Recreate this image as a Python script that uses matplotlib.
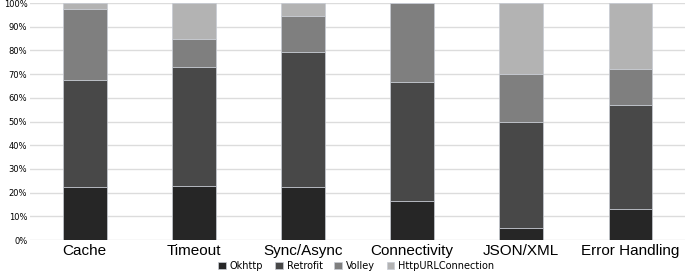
import numpy as np
import matplotlib.pyplot as plt

categories = ["Cache", "Timeout", "Sync/Async", "Connectivity", "JSON/XML", "Error Handling"]
okhttp = [22.5, 23.0, 22.5, 16.5, 5.0, 13.0]
retrofit = [45.0, 50.0, 57.0, 50.0, 45.0, 44.0]
volley = [30.0, 12.0, 15.0, 33.5, 20.0, 15.0]
httpurl = [2.5, 15.0, 5.5, 0.0, 30.0, 28.0]

series = [("Okhttp", okhttp, "#262626"),
          ("Retrofit", retrofit, "#484848"),
          ("Volley", volley, "#7f7f7f"),
          ("HttpURLConnection", httpurl, "#b3b3b3")]

fig = plt.figure(figsize=(6.85, 2.74), dpi=100)
ax = fig.add_axes([0.044, 0.124, 0.956, 0.865])

x = np.arange(len(categories))
bottom = np.zeros(len(categories))
for name, vals, col in series:
    ax.bar(x, vals, 0.4, bottom=bottom, color=col, label=name,
           edgecolor="#c8ccd4", linewidth=0.5, zorder=3)
    bottom += np.array(vals)

ax.set_xlim(-0.5, len(categories) - 0.5)
ax.set_ylim(0, 100)
ax.set_yticks(np.arange(0, 101, 10))
ax.set_yticklabels([f"{v}%" for v in range(0, 101, 10)], fontsize=6)
ax.set_xticks(x)
ax.set_xticklabels(categories, fontsize=11, family="Liberation Sans")
ax.tick_params(length=0, pad=2)
ax.tick_params(axis="x", pad=3)
ax.grid(axis="y", color="#dcdcdc", linewidth=1, zorder=0)
for s in ax.spines.values():
    s.set_visible(False)

fig.legend(loc="lower center", ncol=4, bbox_to_anchor=(0.52, -0.02), frameon=False,
           fontsize=7, handlelength=0.8, handleheight=0.8, handletextpad=0.4,
           columnspacing=1.2)

fig.savefig("out.png", dpi=100)
